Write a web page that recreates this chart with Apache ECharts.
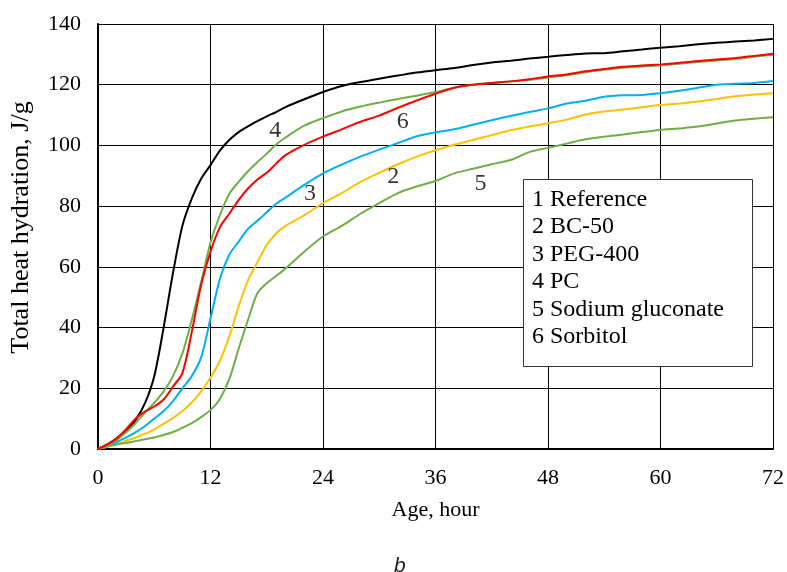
<!DOCTYPE html>
<html>
<head>
<meta charset="utf-8">
<script src="https://cdn.jsdelivr.net/npm/echarts@6/dist/echarts.min.js"></script>
<style>html,body{margin:0;padding:0;background:#fff;}#chart{width:787px;height:572px;}</style>
</head>
<body>
<div id="chart"></div>
<script>
var hours = [0,1,2,3,4,5,6,7,8,9,10,11,12,13,14,15,16,17,18,19,20,22,24,26,28,30,32,34,36,38,40,42,44,46,48,50,52,54,56,58,60,62,64,66,68,70,72];

var reference = [0,1.5,3.5,6,9.5,15,24,40,58,73.5,82.5,89,93.5,98.3,101.8,104.4,106.3,108,109.6,111,112.6,115.2,117.6,119.6,120.9,122,123,124,124.8,125.5,126.5,127.3,127.9,128.6,129.2,129.8,130.3,130.4,131,131.6,132.2,132.7,133.3,133.8,134.2,134.6,135.1];
var bc50 = [0,0.7,1.6,2.7,3.8,5,6.5,8.3,10.2,12.5,15.3,19,23.5,29,37,47,55.5,61.5,67.2,71,73.5,77,81,84.3,88,91,93.8,96.3,98.4,100.2,101.8,103.4,105,106.2,107.3,108.5,110.2,111.2,111.8,112.6,113.3,113.8,114.5,115.3,116.2,116.8,117.2];
var peg400 = [0,1,2.3,3.8,5.5,7.5,10,12.5,15.8,20,24,30.2,43,56,64,68.3,72.5,75.2,78,80.8,82.8,87,90.8,93.7,96.3,98.6,100.8,103,104.3,105.3,106.8,108.3,109.7,111,112.2,113.8,114.7,116,116.5,116.6,117.2,118,119,120,120.3,120.6,121.2];
var pc = [0,1.3,3,5.5,8.5,12,15.2,19,24,31.5,42.5,55,68,77,84,88,91.5,94.5,97.3,100.3,102.6,106.5,109,111.2,112.8,114.1,115.3,116.4,117.6,119,120,120.6,121.1,121.6,122.4,123.1,124.1,124.9,125.6,126,126.4,126.9,127.5,128,128.5,129.2,129.9];
var gluconate = [0,0.8,1.5,2,2.6,3.2,3.8,4.6,5.6,7,8.5,10.5,12.8,16.5,23,33,42.5,51.3,54.6,57,59.5,65,70,73.5,77.5,81,84.3,86.5,88.3,90.8,92.3,93.8,95.2,97.8,99.2,100.6,102,102.9,103.6,104.4,105.1,105.6,106.2,107.2,108.2,108.8,109.3];
var sorbitol = [0,1.5,3.5,6.5,10,12.3,14,16.3,20.6,25,38.5,54,65,73,77.5,82,85.8,88.8,91,94,96.8,100.2,102.9,105.3,107.8,109.8,112.4,114.8,117,119,120,120.6,121.1,121.8,122.7,123.4,124.4,125.2,125.9,126.3,126.7,127.2,127.8,128.3,128.8,129.5,130.2];

var xTicks = [0,12,24,36,48,60,72];
var yTicks = [0,20,40,60,80,100,120,140];

var curveLabels = ['4','6','3','2','5'];
var curveLabelX = [18.9,32.5,22.6,31.5,40.8];
var curveLabelY = [105,107.8,84.2,89.7,87.5];

var legendLines = ['1 Reference','2 BC-50','3 PEG-400','4 PC','5 Sodium gluconate','6 Sorbitol'];

function pairs(xs, ys){ return xs.map(function(x,i){ return [x, ys[i]]; }); }

var seriesDefs = [
  {name:'Reference', data:reference, color:'#000000'},
  {name:'BC-50', data:bc50, color:'#FFC000'},
  {name:'PEG-400', data:peg400, color:'#00B0F0'},
  {name:'PC', data:pc, color:'#70AD47'},
  {name:'Sodium gluconate', data:gluconate, color:'#70AD47'},
  {name:'Sorbitol', data:sorbitol, color:'#FF0000'}
];

var series = seriesDefs.map(function(s){
  return {
    name: s.name, type:'line', data: pairs(hours, s.data), smooth: 0.3,
    showSymbol:false, symbol:'none',
    lineStyle:{color:s.color, width:2}, itemStyle:{color:s.color},
    z: 3
  };
});

series.push({
  type:'scatter', symbolSize:0, z:5,
  data: curveLabels.map(function(t,i){ return {name:t, value:[curveLabelX[i], curveLabelY[i]]}; }),
  label:{show:true, position:'inside', formatter:function(p){return p.name;},
    fontFamily:'Liberation Serif', fontSize:24, color:'#000'}
});

var chart = echarts.init(document.getElementById('chart'), null, {renderer:'canvas'});
chart.setOption({
  animation:false,
  backgroundColor:'#ffffff',
  grid:{left:97, right:12, top:24, bottom:123, containLabel:false},
  xAxis:{
    type:'value', min:0, max:72, interval:12,
    name:'Age, hour', nameLocation:'middle', nameGap:50,
    nameTextStyle:{fontFamily:'Liberation Serif', fontSize:22, color:'#000'},
    axisLine:{show:true, onZero:false, lineStyle:{color:'#000', width:2}},
    axisTick:{show:false},
    axisLabel:{fontFamily:'Liberation Serif', fontSize:22, color:'#000', margin:18,
      formatter:function(v){ return xTicks.indexOf(v)>=0 ? String(v) : ''; }},
    splitLine:{show:true, lineStyle:{color:'#000', width:1}}
  },
  yAxis:{
    type:'value', min:0, max:140, interval:20,
    name:'Total heat hydration, J/g', nameLocation:'middle', nameGap:64,
    nameTextStyle:{fontFamily:'Liberation Serif', fontSize:26, color:'#000', padding:[0,0,0,18]},
    axisLine:{show:true, onZero:false, lineStyle:{color:'#000', width:2}},
    axisTick:{show:false},
    axisLabel:{fontFamily:'Liberation Serif', fontSize:22, color:'#000', margin:17,
      formatter:function(v){ return yTicks.indexOf(v)>=0 ? String(v) : ''; }},
    splitLine:{show:true, lineStyle:{color:'#000', width:1}}
  },
  graphic:[
    {type:'rect', left:523, top:179, z:10,
      shape:{width:229, height:187},
      style:{fill:'#fff', stroke:'#333', lineWidth:1}},
    {type:'text', left:532, top:186, z:11,
      style:{text:legendLines.join('\n'), fontFamily:'Liberation Serif', fontSize:24, lineHeight:27.4, fill:'#000'}},
    {type:'text', left:394, top:556, z:11,
      style:{text:'b', fontFamily:'Liberation Sans', fontStyle:'italic', fontSize:21, fill:'#222'}}
  ],
  series: series
});
</script>
</body>
</html>
